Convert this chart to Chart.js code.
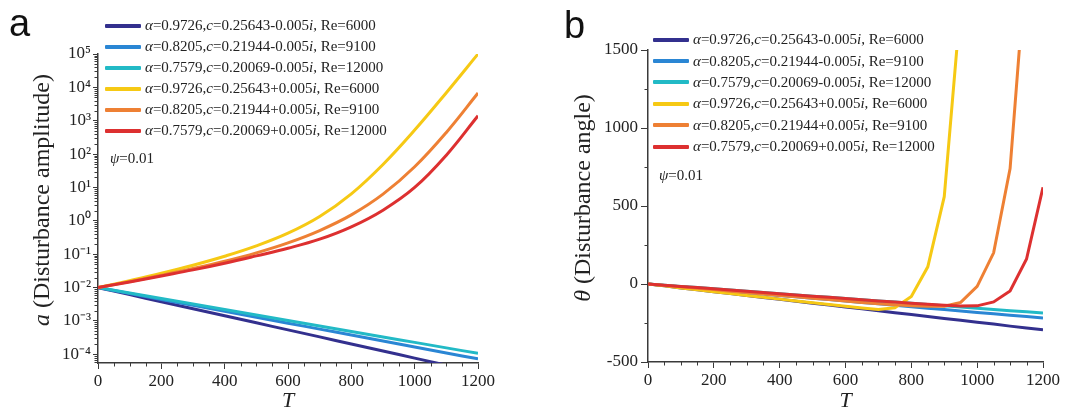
<!DOCTYPE html>
<html>
<head>
<meta charset="utf-8">
<script src="https://cdn.jsdelivr.net/npm/chart.js@4.4.1/dist/chart.umd.min.js"></script>
<style>
    body { margin: 0; background: #fff; font-family: 'Liberation Serif', 'Times New Roman', serif; color: #222; }
    #stage { position: relative; width: 1070px; height: 414px; overflow: hidden; }
    .panel { position: absolute; top: 0; width: 535px; height: 414px; }
    .letter { position: absolute; font-family: 'Liberation Sans', Arial, sans-serif; font-size: 38px; line-height: 38px; color: #111; }
    .legend { position: absolute; font-size: 15px; }
    .legend .row { display: flex; align-items: center; white-space: nowrap; }
    .legend .swatch { width: 36px; height: 4px; margin-right: 4px; border-radius: 1px; }
    .note { position: absolute; font-size: 15px; line-height: 15px; }
    .ytitle { position: absolute; font-size: 24px; white-space: nowrap; transform: translate(-50%, -50%) rotate(-90deg); }
</style>
</head>
<body>
<div id="stage">
    <div class="panel" style="left:0"><canvas id="ampChart"></canvas></div>
    <div class="panel" style="left:535px"><canvas id="angleChart"></canvas></div>

    <div class="letter" style="left:9px; top:4px">a</div>
    <div class="letter" style="left:564px; top:6px">b</div>

    <div class="ytitle" style="left:41px; top:200px"><i>a</i> (Disturbance amplitude)</div>
    <div class="ytitle" style="left:582px; top:198px"><i>θ</i> (Disturbance angle)</div>

    <div class="legend" id="legendA" style="left:105px; top:15px"></div>
    <div class="legend" id="legendB" style="left:653px; top:29px"></div>

    <div class="note" style="left:110px; top:151px"><i>ψ</i>=0.01</div>
    <div class="note" style="left:659px; top:168px"><i>ψ</i>=0.01</div>
</div>

<script>
// Series descriptors (same order as the legend)
const alphas    = ['0.9726', '0.8205', '0.7579', '0.9726', '0.8205', '0.7579'];
const cReal     = ['0.25643', '0.21944', '0.20069', '0.25643', '0.21944', '0.20069'];
const cImag     = ['-0.005', '-0.005', '-0.005', '+0.005', '+0.005', '+0.005'];
const reynolds  = ['6000', '9100', '12000', '6000', '9100', '12000'];
const colors    = ['#33308e', '#2a86d4', '#22bac6', '#f6c914', '#ee8034', '#dd3030'];

// Panel a: disturbance amplitude (log axis), sampled every 100 in T
const tAmp      = [0, 100, 200, 300, 400, 500, 600, 700, 800, 900, 1000, 1100, 1200];
const ampNavy   = [1e-2, 6.15e-3, 3.78e-3, 2.33e-3, 1.43e-3, 8.8e-4, 5.4e-4, 3.33e-4, 2.05e-4, 1.26e-4, 7.7e-5, 4.75e-5, 2.9e-5];
const ampBlue   = [1e-2, 6.64e-3, 4.41e-3, 2.93e-3, 1.94e-3, 1.29e-3, 8.6e-4, 5.7e-4, 3.8e-4, 2.5e-4, 1.67e-4, 1.1e-4, 7.3e-5];
const ampCyan   = [1e-2, 6.85e-3, 4.69e-3, 3.21e-3, 2.2e-3, 1.51e-3, 1.03e-3, 7.1e-4, 4.85e-4, 3.32e-4, 2.28e-4, 1.56e-4, 1.07e-4];
const ampYellow = [1e-2, 0.0162, 0.0269, 0.0468, 0.0871, 0.178, 0.427, 1.35, 6.46, 49, 525, 6.92e3, 1e5];
const ampOrange = [1e-2, 0.0151, 0.0234, 0.0372, 0.0617, 0.110, 0.219, 0.513, 1.51, 6.31, 41.7, 447, 6.76e3];
const ampRed    = [1e-2, 0.0148, 0.0224, 0.0339, 0.0537, 0.0891, 0.151, 0.282, 0.661, 2.09, 10.0, 93, 1.41e3];

// Panel b: disturbance angle, sampled every 50 in T
const tAngle      = [0, 50, 100, 150, 200, 250, 300, 350, 400, 450, 500, 550, 600, 650, 700, 750, 800, 850, 900, 950, 1000, 1050, 1100, 1150, 1200];
const angleNavy   = [0, -12, -25, -37, -49, -61, -74, -86, -98, -110, -123, -135, -147, -159, -172, -184, -196, -208, -221, -233, -245, -257, -270, -282, -294];
const angleBlue   = [0, -9, -18, -27, -36, -46, -55, -64, -73, -82, -91, -100, -109, -118, -127, -137, -146, -155, -164, -173, -182, -191, -200, -209, -218];
const angleCyan   = [0, -8, -16, -23, -31, -39, -47, -54, -62, -70, -78, -85, -93, -101, -109, -116, -124, -132, -140, -147, -155, -163, -171, -178, -186];
const angleYellow = [0, -12, -25, -37, -49, -61, -73, -85, -97, -109, -120, -132, -143, -154, -163, -152, -80, 110, 560, 1800, null, null, null, null, null];
const angleOrange = [0, -9, -18, -27, -36, -46, -55, -64, -73, -82, -91, -100, -109, -118, -126, -133, -139, -143, -143, -118, -15, 200, 740, 2100, null];
const angleRed    = [0, -8, -16, -23, -31, -39, -47, -54, -62, -70, -78, -85, -93, -101, -109, -116, -123, -130, -136, -141, -140, -115, -45, 160, 620];

// Axis ticks
const ampExponents = [-4, -3, -2, -1, 0, 1, 2, 3, 4, 5];
const tTicks       = [0, 200, 400, 600, 800, 1000, 1200];
const angleTicks   = [-500, 0, 500, 1000, 1500];

const AXIS = '#3a3a3a';
const TICK_FONT = { family: "'Liberation Serif', serif", size: 17 };
const SUP = { '-': '⁻', '0': '⁰', '1': '¹', '2': '²', '3': '³', '4': '⁴', '5': '⁵', '6': '⁶', '7': '⁷', '8': '⁸', '9': '⁹' };

function legendLabel(i) {
    return `<i>α</i>=${alphas[i]},<i>c</i>=${cReal[i]}${cImag[i]}<i>i</i>, Re=${reynolds[i]}`;
}

function buildLegend(id, rowHeight) {
    const box = document.getElementById(id);
    alphas.forEach((a, i) => {
        box.innerHTML += `<div class="row" style="height:${rowHeight}px">
            <span class="swatch" style="background:${colors[i]}"></span><span>${legendLabel(i)}</span></div>`;
    });
}

function toPoints(xs, ys) {
    return xs.map((x, i) => ({ x: x, y: ys[i] }));
}

function makeDatasets(xs, seriesList, tension) {
    return seriesList.map((ys, i) => ({
        data: toPoints(xs, ys),
        borderColor: colors[i],
        borderWidth: 3,
        pointRadius: 0,
        fill: false,
        spanGaps: false,
        tension: tension,
        order: seriesList.length - i   // red drawn last, on top
    }));
}

// Small unlabelled ticks between the major ones
const minorTicks = {
    id: 'minorTicks',
    afterDraw(chart, args, opts) {
        const { ctx, chartArea, scales } = chart;
        ctx.save();
        ctx.strokeStyle = AXIS;
        ctx.lineWidth = 1;
        ctx.beginPath();
        (opts.x || []).forEach(v => {
            const px = Math.round(scales.x.getPixelForValue(v)) + 0.5;
            ctx.moveTo(px, chartArea.bottom);
            ctx.lineTo(px, chartArea.bottom + 3.5);
        });
        (opts.y || []).forEach(v => {
            const py = Math.round(scales.y.getPixelForValue(v)) + 0.5;
            ctx.moveTo(chartArea.left - 3.5, py);
            ctx.lineTo(chartArea.left, py);
        });
        ctx.stroke();
        ctx.restore();
    }
};

function linearMinors(min, max, step, majorStep) {
    let out = [];
    for (let v = min; v <= max; v += step) {
        if (Math.abs(v % majorStep) > 1e-9) out.push(v);
    }
    return out;
}

function logMinors(lo, hi) {
    let out = [];
    for (let e = -5; e <= 5; e++) {
        for (let m = 2; m <= 9; m++) {
            const v = m * Math.pow(10, e);
            if (v >= lo && v <= hi) out.push(v);
        }
    }
    return out;
}

function xAxis() {
    return {
        type: 'linear',
        min: 0, max: 1200,
        afterBuildTicks: s => { s.ticks = tTicks.map(v => ({ value: v })); },
        afterFit: s => { s.height = 51; },
        ticks: { font: TICK_FONT, color: '#222', padding: 2, maxRotation: 0, callback: v => String(v) },
        grid: { display: true, drawOnChartArea: false, drawTicks: true, tickLength: 6, color: AXIS, lineWidth: 1 },
        border: { display: true, color: AXIS, width: 1.5 },
        title: { display: true, text: 'T', font: { family: "'Liberation Serif', serif", size: 22, style: 'italic' }, color: '#222', padding: { top: 0, bottom: 0 } }
    };
}

function renderAmplitudeChart() {
    const yMin = 5.5e-5, yMax = 1e5;
    new Chart(document.getElementById('ampChart'), {
        type: 'line',
        data: { datasets: makeDatasets(tAmp, [ampNavy, ampBlue, ampCyan, ampYellow, ampOrange, ampRed], 0.4) },
        options: {
            responsive: true,
            maintainAspectRatio: false,
            animation: false,
            layout: { padding: { left: 0, right: 57, top: 54, bottom: 0 } },
            plugins: {
                legend: { display: false },
                tooltip: { enabled: false },
                minorTicks: { x: linearMinors(0, 1200, 50, 200), y: logMinors(yMin, yMax) }
            },
            scales: {
                x: xAxis(),
                y: {
                    type: 'logarithmic',
                    min: yMin, max: yMax,
                    afterBuildTicks: s => { s.ticks = ampExponents.map(e => ({ value: Math.pow(10, e) })); },
                    afterFit: s => { s.width = 98; },
                    ticks: {
                        font: TICK_FONT, color: '#222', padding: 2,
                        callback: v => '10' + String(Math.round(Math.log10(v))).split('').map(ch => SUP[ch]).join('')
                    },
                    grid: { display: true, drawOnChartArea: false, drawTicks: true, tickLength: 5, color: AXIS, lineWidth: 1 },
                    border: { display: true, color: AXIS, width: 1.5 }
                }
            }
        },
        plugins: [minorTicks]
    });
}

function renderAngleChart() {
    new Chart(document.getElementById('angleChart'), {
        type: 'line',
        data: { datasets: makeDatasets(tAngle, [angleNavy, angleBlue, angleCyan, angleYellow, angleOrange, angleRed], 0) },
        options: {
            responsive: true,
            maintainAspectRatio: false,
            animation: false,
            layout: { padding: { left: 0, right: 27, top: 50, bottom: 0 } },
            plugins: {
                legend: { display: false },
                tooltip: { enabled: false },
                minorTicks: { x: linearMinors(0, 1200, 50, 200), y: linearMinors(-500, 1500, 250, 500) }
            },
            scales: {
                x: Object.assign(xAxis(), { afterFit: s => { s.height = 52; } }),
                y: {
                    type: 'linear',
                    min: -500, max: 1500,
                    afterBuildTicks: s => { s.ticks = angleTicks.map(v => ({ value: v })); },
                    afterFit: s => { s.width = 113; },
                    ticks: { font: TICK_FONT, color: '#222', padding: 3, callback: v => String(v) },
                    grid: { display: true, drawOnChartArea: false, drawTicks: true, tickLength: 7, color: AXIS, lineWidth: 1 },
                    border: { display: true, color: AXIS, width: 1.5 }
                }
            }
        },
        plugins: [minorTicks]
    });
}

document.addEventListener('DOMContentLoaded', () => {
    buildLegend('legendA', 21);
    buildLegend('legendB', 21.4);
    renderAmplitudeChart();
    renderAngleChart();
});
</script>
</body>
</html>
